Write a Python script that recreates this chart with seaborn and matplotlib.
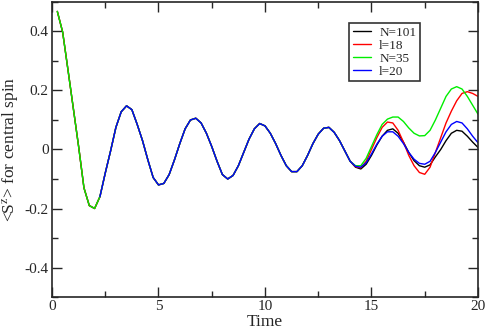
import numpy as np
import pandas as pd
import seaborn as sns
import matplotlib
matplotlib.use("Agg")
import matplotlib.pyplot as plt
from matplotlib.ticker import MultipleLocator

# time grid of the simulation output
time = np.arange(0.25, 20.01, 0.25)

# common part (all runs agree up to t ~ 13.75)
s_early = [0.468, 0.398, 0.27, 0.14, 0.01, -0.13, -0.19, -0.2,
           -0.16, -0.08, -0.005, 0.075, 0.128, 0.148, 0.135, 0.085,
           0.03, -0.035, -0.095, -0.12, -0.115, -0.085, -0.035, 0.02,
           0.07, 0.10, 0.106, 0.09, 0.055, 0.01, -0.04, -0.085,
           -0.10, -0.088, -0.055, -0.01, 0.035, 0.07, 0.088, 0.08,
           0.055, 0.02, -0.02, -0.055, -0.075, -0.075, -0.055, -0.02,
           0.02, 0.052, 0.072, 0.075, 0.058, 0.03, -0.005]

# tails, t = 14.0 .. 20.0
tail_n101 = [-0.04, -0.06, -0.066, -0.05, -0.02, 0.015, 0.045, 0.065, 0.07,
             0.055, 0.025, -0.01, -0.038, -0.055, -0.06, -0.052, -0.025,
             0.0, 0.03, 0.055, 0.065, 0.062, 0.045, 0.025, 0.007]
tail_l18 = [-0.04, -0.058, -0.062, -0.04, 0.0, 0.04, 0.075, 0.093, 0.09,
            0.065, 0.025, -0.02, -0.055, -0.078, -0.084, -0.06, -0.01,
            0.04, 0.09, 0.13, 0.165, 0.19, 0.196, 0.19, 0.18]
tail_n35 = [-0.04, -0.055, -0.055, -0.03, 0.01, 0.05, 0.085, 0.103, 0.11,
            0.11, 0.095, 0.073, 0.055, 0.046, 0.047, 0.065, 0.1,
            0.14, 0.18, 0.205, 0.213, 0.205, 0.18, 0.15, 0.12]
tail_l20 = [-0.04, -0.057, -0.06, -0.045, -0.015, 0.018, 0.045, 0.06, 0.06,
            0.045, 0.02, -0.01, -0.033, -0.047, -0.05, -0.04, -0.01,
            0.025, 0.06, 0.085, 0.095, 0.09, 0.07, 0.045, 0.023]

labels = ["N=101", "l=18", "N=35", "l=20"]
colors = ["black", "#ff0000", "#00ee00", "#0000ff"]
series = [s_early + tail_n101, s_early + tail_l18,
          s_early + tail_n35, s_early + tail_l20]
first_idx = [0, 0, 0, 8]  # l=20 run starts at t=2.25

sns.set_style("ticks")
plt.rcParams["font.family"] = ["Liberation Serif", "DejaVu Serif"]
plt.rcParams["mathtext.fontset"] = "stix"

fig = plt.figure(figsize=(4.86, 3.31), dpi=100)
ax = fig.add_axes([0.107, 0.1027, 0.8765, 0.8913])

for lab, col, vals, i0 in zip(labels, colors, series, first_idx):
    df = pd.DataFrame({"t": time[i0:], "s": vals[i0:]})
    sns.lineplot(data=df, x="t", y="s", ax=ax, color=col, lw=1.0, label=lab)

ax.set_xlim(0, 20)
ax.set_ylim(-0.5, 0.5)
ax.xaxis.set_major_locator(MultipleLocator(5))
ax.xaxis.set_minor_locator(MultipleLocator(2.5))
ax.yaxis.set_minor_locator(MultipleLocator(0.1))
ax.set_yticks([-0.4, -0.2, 0, 0.2, 0.4])
ax.set_yticklabels(["-0.4", "-0.2", "0", "0.2", "0.4"])
ax.tick_params(which="both", direction="in", top=True, right=True,
               labelsize=11, width=1)
ax.tick_params(which="major", length=7, pad=2.5)
ax.tick_params(axis="x", which="major", pad=2)
ax.tick_params(which="minor", length=4)
for sp in ax.spines.values():
    sp.set_linewidth(1.2)

ax.set_xlabel("Time", fontsize=12.5)
ax.set_ylabel(r"<S$^{\mathrm{z}}$> for central spin", fontsize=12.5)
ax.xaxis.set_label_coords(0.5, -0.058)
ax.yaxis.set_label_coords(-0.072, 0.5)

leg = ax.legend(loc="upper left", bbox_to_anchor=(0.697, 0.93), fontsize=9.5,
                frameon=True, fancybox=False, edgecolor="black",
                handlelength=1.4, handletextpad=0.6, borderpad=0.3,
                labelspacing=0.05, borderaxespad=0)
leg.get_frame().set_linewidth(1.2)

fig.savefig("out.png", dpi=100)
